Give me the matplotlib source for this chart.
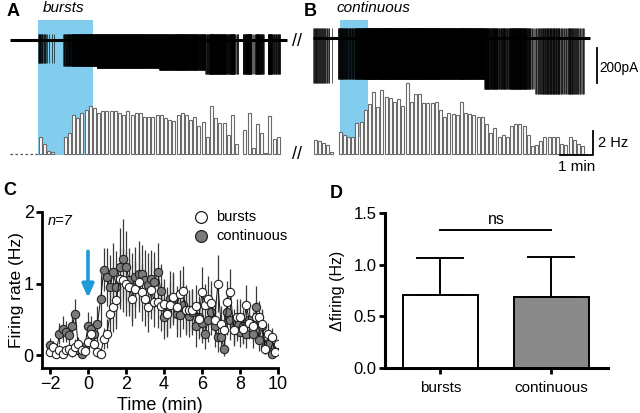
import numpy as np
import matplotlib
matplotlib.use('Agg')
import matplotlib.pyplot as plt
from matplotlib.patches import Rectangle
from matplotlib.lines import Line2D

plt.rcParams['font.family'] = ['Liberation Sans', 'DejaVu Sans']

# ---------------- data ----------------
BIN_S = 7.6                    # histogram bin (s)
# A (bursts) firing-rate histogram (Hz), bins start at stimulus onset
hist_A = [1.45, 0.87, 0.30, 0.20, 0.00, 0.00, 1.50, 1.85, 3.40, 3.10,
          3.55, 3.80, 4.15, 4.00, 3.55, 3.75, 3.75, 3.75, 3.70, 3.55,
          3.40, 3.75, 3.40, 3.55, 3.55, 3.25, 3.20, 3.20, 3.40, 3.40,
          3.10, 3.00, 2.90, 3.40, 3.55, 3.40, 2.95, 3.25, 2.40, 2.75,
          1.45, 4.15, 3.10, 2.70, 2.70, 1.65, 3.40, 0.87, 0.00, 2.10,
          3.55, 0.50, 2.60, 1.85, 0.05, 3.30, 1.30, 1.50]
# spike amplitude (pA, inward) per bin for trace A
amp_A = [130]*6 + [150]*8 + [160]*15 + [170]*11 + [195]*18
# B (continuous) firing-rate histogram (Hz)
hist_B = [1.20, 1.15, 1.00, 0.80, 0.15, 0.00,
          1.95, 1.65, 1.50, 1.50, 2.70, 2.80, 3.80, 4.35, 5.35, 4.05,
          5.55, 5.00, 4.85, 4.55, 4.75, 4.20, 6.15, 4.55, 5.25, 5.25,
          4.45, 4.45, 4.45, 4.55, 3.80, 3.20, 3.55, 3.50, 3.40, 4.55,
          3.55, 3.50, 3.40, 3.25, 3.25, 2.60, 1.85, 2.30, 1.45, 1.65,
          1.45, 2.45, 2.60, 2.60, 2.40, 1.65, 0.70, 0.80, 1.15, 1.50,
          1.45, 1.45, 1.50, 0.87, 0.80, 1.50, 1.20, 0.87, 0.70]
amp_B = [255]*6 + [235]*35 + [290]*12 + [320]*12
UP_A, UP_B = 35, 60            # outward spike excursion (pA)
STIM_A = (0.0, 1.67)           # light stimulation (min)
STIM_B = (0.82, 1.67)

# C: mean firing rate (Hz) vs time, every 10 s
time_C = -2 + np.arange(73) / 6
bursts_mean = [0.05, 0.12, 0.02, 0.07, 0.02, 0.07, 0.09, 0.05, 0.12, 0.16, 0.07, 0.06,
               0.18, 0.30, 0.16, 0.05, 0.02, 0.23, 0.30, 0.58, 0.67, 0.77, 1.07, 1.05,
               1.00, 0.95, 0.79, 0.92, 1.02, 0.88, 0.79, 0.67, 0.91, 0.74, 0.74, 0.68,
               0.72, 0.58, 0.70, 0.81, 0.67, 0.85, 0.90, 0.63, 0.63, 0.63, 0.68, 0.51,
               0.88, 0.70, 0.79, 0.73, 0.49, 1.00, 0.44, 0.35, 0.74, 0.88, 0.35, 0.53,
               0.53, 0.37, 0.70, 0.45, 0.40, 0.53, 0.53, 0.44, 0.09, 0.30, 0.26, 0.05,
               0.16]
bursts_sem = [0.06, 0.08, 0.05, 0.07, 0.05, 0.06, 0.08, 0.07, 0.10, 0.10, 0.08, 0.07,
              0.12, 0.15, 0.12, 0.08, 0.06, 0.15, 0.20, 0.30, 0.35, 0.40, 0.42, 0.45,
              0.45, 0.40, 0.38, 0.40, 0.42, 0.40, 0.38, 0.35, 0.40, 0.35, 0.36, 0.34,
              0.35, 0.30, 0.32, 0.35, 0.30, 0.34, 0.35, 0.30, 0.28, 0.30, 0.30, 0.25,
              0.35, 0.30, 0.32, 0.30, 0.25, 0.40, 0.25, 0.22, 0.30, 0.32, 0.22, 0.25,
              0.25, 0.20, 0.28, 0.22, 0.20, 0.22, 0.22, 0.20, 0.08, 0.15, 0.12, 0.06,
              0.10]
cont_mean = [0.14, 0.09, 0.05, 0.30, 0.37, 0.33, 0.28, 0.40, 0.58, 0.07, 0.02, 0.12,
             0.40, 0.37, 0.30, 0.44, 0.79, 1.19, 1.09, 0.95, 1.16, 0.95, 1.23, 1.35,
             1.23, 1.05, 0.95, 1.09, 1.14, 1.14, 1.05, 0.98, 1.07, 1.02, 1.16, 0.90,
             0.53, 0.60, 0.79, 0.77, 0.58, 0.56, 0.70, 0.63, 0.55, 0.60, 0.40, 0.53,
             0.45, 0.30, 0.49, 0.60, 0.40, 0.26, 0.26, 0.09, 0.60, 0.49, 0.40, 0.45,
             0.33, 0.40, 0.30, 0.49, 0.30, 0.67, 0.21, 0.40, 0.12, 0.16, 0.02, 0.12,
             0.10]
cont_sem = [0.10, 0.08, 0.06, 0.15, 0.18, 0.15, 0.12, 0.15, 0.20, 0.06, 0.04, 0.10,
            0.20, 0.18, 0.15, 0.25, 0.35, 0.30, 0.40, 0.45, 0.40, 0.50, 0.55, 0.55,
            0.50, 0.45, 0.48, 0.42, 0.45, 0.40, 0.42, 0.45, 0.40, 0.42, 0.40, 0.38,
            0.30, 0.35, 0.38, 0.35, 0.32, 0.30, 0.34, 0.35, 0.30, 0.32, 0.28, 0.30,
            0.28, 0.22, 0.30, 0.32, 0.28, 0.22, 0.20, 0.10, 0.32, 0.28, 0.25, 0.25,
            0.22, 0.25, 0.20, 0.25, 0.20, 0.30, 0.15, 0.22, 0.10, 0.12, 0.05, 0.08,
            0.08]

# D: delta firing
d_groups = ['bursts', 'continuous']
d_mean = [0.707, 0.684]
d_sem = [0.355, 0.387]

assert len(hist_A) == len(amp_A) and len(hist_B) == len(amp_B)
assert len(bursts_mean) == len(bursts_sem) == len(cont_mean) == len(cont_sem) == len(time_C)

# ---------------- figure ----------------
W, H = 640, 413
fig = plt.figure(figsize=(6.4, 4.13), dpi=100)


def ax_px(l, t, r, b, **kw):
    return fig.add_axes([l / W, 1 - b / H, (r - l) / W, (b - t) / H], **kw)


def ftxt(x, y, s, **kw):
    fig.text(x / W, 1 - y / H, s, **kw)


PXMIN = 33.0          # px per minute
HZPX = 11.5           # px per Hz
PAPX = 200 / 35.0     # pA per px
BLUE = '#82cdee'
binw = BIN_S / 60.0


def hist_axes(l, r, x0px, hist, stim, stim_bottom_px):
    ax = ax_px(l, 20, r, 158)
    ax.set_xlim(-(x0px - l) / PXMIN, (r - x0px) / PXMIN)
    ax.set_ylim(-(158 - 154) / HZPX, (154 - 20) / HZPX)
    ax.axis('off')
    ybot = -(stim_bottom_px - 154) / HZPX
    ax.add_patch(Rectangle((stim[0], ybot), stim[1] - stim[0],
                           (154 - 20) / HZPX - ybot, fc=BLUE, ec='none', zorder=0))
    h = np.array(hist)
    x = np.arange(len(h)) * binw + binw * 0.14
    m = h > 0
    ax.bar(x[m], h[m], width=binw * 0.72, align='edge', fc='white',
           ec='#6a6a6a', lw=0.8, zorder=2)
    return ax


def trace_axes(l, r, x0px, base_px, hist, amp, up, t_start, t_end):
    ax = ax_px(l, base_px - 35, r, base_px + 80)
    ax.set_xlim(-(x0px - l) / PXMIN, (r - x0px) / PXMIN)
    ax.set_ylim(-80 * PAPX, 35 * PAPX)
    ax.axis('off')
    ax.patch.set_alpha(0)
    ax.hlines(0, t_start, t_end, color='k', lw=2.2)
    xs, lo = [], []
    for i, (r_, a) in enumerate(zip(hist, amp)):
        n = int(round(r_ * BIN_S))
        for j in range(n):
            xs.append((i + (j + 0.5) / n) * binw)
            lo.append(-a)
    ax.vlines(xs, lo, up, color='k', lw=0.45)
    return ax


# Panel A
axHA = hist_axes(10, 290, 38, hist_A, STIM_A, 155)
axHA.plot([-(38 - 10) / PXMIN, 0], [0, 0], ls=(0, (2, 2)), color='#555555', lw=0.9)
axTA = trace_axes(10, 290, 38, 40, hist_A, amp_A, UP_A, -(38 - 10) / PXMIN, (287 - 38) / PXMIN)
axTA.set_zorder(3)

# Panel B
axHB = hist_axes(313, 600, 313, hist_B, STIM_B, 137)
axTB = trace_axes(313, 600, 313, 38, hist_B, amp_B, UP_B, 0, (590 - 313) / PXMIN)
axTB.set_zorder(3)

# scale bars
axTB.plot([(597 - 313) / PXMIN] * 2, [-10 * PAPX, -45 * PAPX], color='k', lw=1.3, clip_on=False)
sx = (593 - 313) / PXMIN
axHB.plot([sx - 1, sx, sx], [-0.09, -0.09, 2.0], color='k', lw=1.3, clip_on=False)
ftxt(599, 68, '200pA', fontsize=9.8, ha='left', va='center')
ftxt(598, 143, '2 Hz', fontsize=10.5, ha='left', va='center')
ftxt(577, 167, '1 min', fontsize=11, ha='center', va='center')
ftxt(297, 42, '//', fontsize=13, ha='center', va='center')
ftxt(297, 155, '//', fontsize=13, ha='center', va='center')

ftxt(7, 12, 'A', fontsize=13, fontweight='bold', ha='left', va='center')
ftxt(64, 8, 'bursts', fontsize=11, style='italic', ha='center', va='center')
ftxt(304, 12, 'B', fontsize=13, fontweight='bold', ha='left', va='center')
ftxt(373, 8, 'continuous', fontsize=11, style='italic', ha='center', va='center')
ftxt(3, 191, 'C', fontsize=13, fontweight='bold', ha='left', va='center')
ftxt(330, 193, 'D', fontsize=13, fontweight='bold', ha='left', va='center')

# Panel C
axC = ax_px(42, 212, 278, 368)
axC.set_xlim(-2.42, 10)
axC.set_ylim(-0.18, 2.0)
for s in ['top', 'right']:
    axC.spines[s].set_visible(False)
for s in ['left', 'bottom']:
    axC.spines[s].set_linewidth(2)
axC.errorbar(time_C, cont_mean, yerr=cont_sem, fmt='none', ecolor='#3a3a3a', elinewidth=0.9, zorder=2)
axC.errorbar(time_C, bursts_mean, yerr=bursts_sem, fmt='none', ecolor='#3a3a3a', elinewidth=0.9, zorder=2)
axC.plot(time_C, cont_mean, '-', color='#111111', lw=0.7, zorder=3)
axC.plot(time_C, cont_mean, 'o', ms=6, mfc='#7b7b7b', mec='#222222', mew=0.8, ls='none', zorder=4)
axC.plot(time_C, bursts_mean, '-', color='#111111', lw=0.7, zorder=5)
axC.plot(time_C, bursts_mean, 'o', ms=6, mfc='white', mec='#222222', mew=0.8, ls='none', zorder=6)
axC.set_xticks([-2, 0, 2, 4, 6, 8, 10])
axC.set_yticks([0, 1, 2])
axC.tick_params(labelsize=13, width=2, length=4, direction='out', pad=2)
axC.set_xlabel('Time (min)', fontsize=13, labelpad=3)
axC.set_ylabel('Firing rate (Hz)', fontsize=12.5, labelpad=0)
axC.annotate('', xy=(0, 0.80), xytext=(0, 1.45),
             arrowprops=dict(arrowstyle='-|>,head_width=0.35,head_length=0.8',
                             color='#1e9bd7', lw=2.6, shrinkA=0, shrinkB=0))
ftxt(48, 221, 'n=7', fontsize=10.5, style='italic', ha='left', va='center')
fig.add_artist(Line2D([201 / W], [1 - 217 / H], marker='o', ms=8.5, mfc='white',
                      mec='#222222', mew=0.9, ls='none'))
fig.add_artist(Line2D([201 / W], [1 - 236 / H], marker='o', ms=8.5, mfc='#7b7b7b',
                      mec='#222222', mew=0.9, ls='none'))
ftxt(216, 217, 'bursts', fontsize=10.5, ha='left', va='center')
ftxt(216, 236, 'continuous', fontsize=10.5, ha='left', va='center')

# Panel D
axD = ax_px(385, 213, 608, 368)
axD.set_xlim(-0.5, 1.51)
axD.set_ylim(0, 1.5)
for s in ['top', 'right']:
    axD.spines[s].set_visible(False)
for s in ['left', 'bottom']:
    axD.spines[s].set_linewidth(2.2)
xd = np.arange(len(d_groups))
axD.errorbar(xd, d_mean, yerr=[[0] * len(d_sem), d_sem], fmt='none', ecolor='k',
             elinewidth=1.4, capsize=17, capthick=1.4, zorder=2)
axD.bar(xd, d_mean, width=0.68, color=['white', '#8a8a8a'], edgecolor='k', lw=1.4, zorder=3)
axD.plot([0, 1], [1.335, 1.335], color='k', lw=1.4)
axD.text(0.5, 1.44, 'ns', fontsize=11.5, ha='center', va='center')
axD.set_yticks([0, 0.5, 1.0, 1.5])
axD.set_yticklabels(['0.0', '0.5', '1.0', '1.5'])
axD.set_xticks(xd)
axD.set_xticklabels(d_groups)
axD.tick_params(axis='y', labelsize=12, width=2, length=4, direction='out', pad=2)
axD.tick_params(axis='x', labelsize=11, width=2, length=4, direction='out', pad=5)
axD.set_ylabel('\u0394firing (Hz)', fontsize=11.5, labelpad=6)

fig.savefig('out.png', dpi=100)
